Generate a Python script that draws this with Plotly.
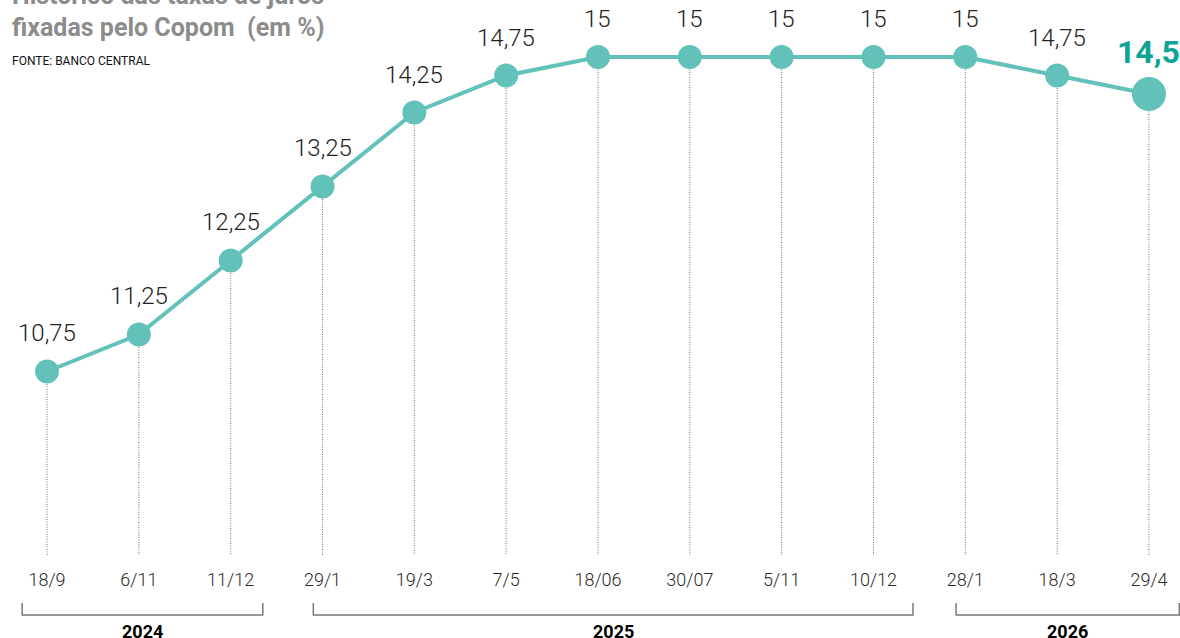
import plotly.graph_objects as go

dates = ["18/9", "6/11", "11/12", "29/1", "19/3", "7/5", "18/06", "30/07", "5/11", "10/12", "28/1", "18/3", "29/4"]
rates = [10.75, 11.25, 12.25, 13.25, 14.25, 14.75, 15, 15, 15, 15, 15, 14.75, 14.5]
rate_labels = ["10,75", "11,25", "12,25", "13,25", "14,25", "14,75", "15", "15", "15", "15", "15", "14,75", "14,5"]
years = ["2024", "2025", "2026"]
year_first_idx = [0, 3, 10]
year_last_idx = [2, 9, 12]

TEAL = "#62c1b8"
DARK_TEAL = "#0fa398"
Y_MIN, Y_MAX = 8.27, 15.5
X_MIN, X_MAX = -0.512, 12.338
BRACKET_PAD = [(-0.27, 0.35), (-0.10, 0.43), (-0.10, 0.33)]

idx = list(range(len(dates)))
n = len(dates)

fig = go.Figure()

# dotted drop lines
dx, dy = [], []
for i, v in zip(idx, rates):
    dx += [i, i, None]
    dy += [v, Y_MIN, None]
fig.add_trace(go.Scatter(x=dx, y=dy, mode="lines",
                         line=dict(color="#6e6e6e", width=1, dash="1px,1.5px"),
                         hoverinfo="skip", showlegend=False))

sizes = [24] * (n - 1) + [34]
fig.add_trace(go.Scatter(x=idx, y=rates, mode="lines+markers",
                         line=dict(color=TEAL, width=4),
                         marker=dict(color=TEAL, size=sizes, opacity=1, line=dict(width=0)),
                         opacity=1, hoverinfo="skip", showlegend=False))

annotations = []
for i, (v, lab) in enumerate(zip(rates, rate_labels)):
    last = i == n - 1
    annotations.append(dict(
        x=i, y=v, xref="x", yref="y", text=lab, showarrow=False,
        yshift=42 if last else 38,
        font=dict(family="Roboto", size=32 if last else 24,
                  color=DARK_TEAL if last else "#222222",
                  weight=700 if last else 300),
    ))

def py(px):
    return (555 - px) / 535.0

# title
annotations.append(dict(x=0.0085, y=py(-4), xref="paper", yref="paper", xanchor="left", yanchor="middle",
                        text="Histórico das taxas de juros", showarrow=False,
                        font=dict(family="Roboto", size=25, color="#8c8c8c", weight=700)))
annotations.append(dict(x=0.0085, y=py(27), xref="paper", yref="paper", xanchor="left", yanchor="middle",
                        text="fixadas pelo Copom  (em %)", showarrow=False,
                        font=dict(family="Roboto", size=25, color="#8c8c8c", weight=700)))
annotations.append(dict(x=0.0085, y=py(61), xref="paper", yref="paper", xanchor="left", yanchor="middle",
                        text="FONTE: BANCO CENTRAL", showarrow=False,
                        font=dict(family="Roboto", size=12, color="#111111")))

shapes = []
for yr, a, b, (pl, pr) in zip(years, year_first_idx, year_last_idx, BRACKET_PAD):
    x0, x1 = a + pl, b + pr
    shapes.append(dict(type="path", xref="x", yref="paper",
                       path=f"M {x0} {py(603)} L {x0} {py(615)} L {x1} {py(615)} L {x1} {py(603)}",
                       line=dict(color="#7a7a7a", width=1.5)))
    annotations.append(dict(x=(x0 + x1) / 2, y=py(631), xref="x", yref="paper", yanchor="middle",
                            text=yr, showarrow=False,
                            font=dict(family="Roboto", size=18, color="#000000", weight=700)))

fig.update_layout(
    width=1180, height=638,
    margin=dict(l=0, r=0, t=20, b=83),
    paper_bgcolor="white", plot_bgcolor="white",
    hovermode=False,
    xaxis=dict(range=[X_MIN, X_MAX], tickvals=idx, ticktext=dates, showgrid=False, zeroline=False,
               showline=False, ticks="outside", ticklen=8, tickcolor="rgba(0,0,0,0)",
               tickfont=dict(family="Roboto", size=18, color="#2a2a2a", weight=300), fixedrange=True),
    yaxis=dict(range=[Y_MIN, Y_MAX], visible=False, fixedrange=True),
    annotations=annotations, shapes=shapes,
)

fig.write_html("out.html", config={"displayModeBar": False, "staticPlot": True},
               post_script="document.body.style.margin='0';document.body.style.overflow='hidden';")
